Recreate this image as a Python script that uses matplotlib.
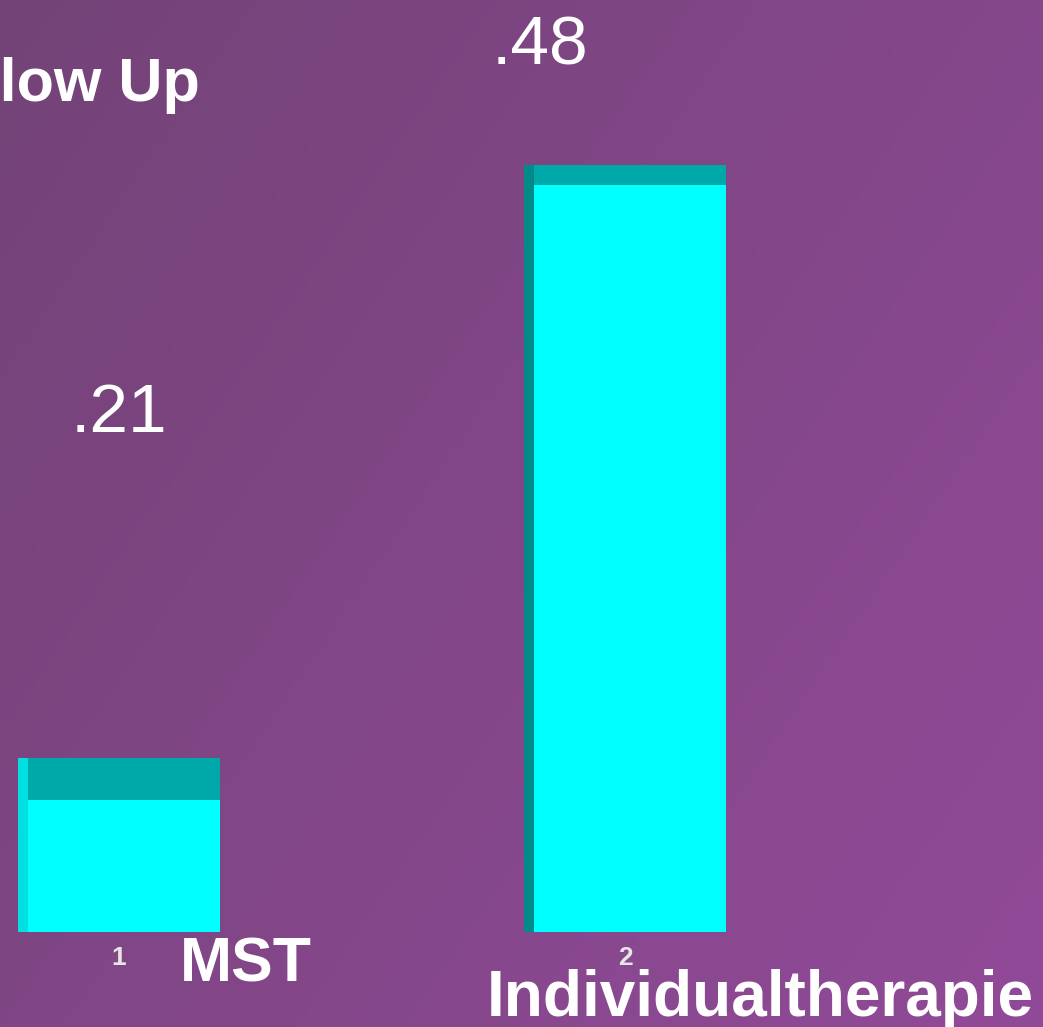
import numpy as np
import matplotlib
matplotlib.use("Agg")
import matplotlib.pyplot as plt

# ---- data ----
categories = ["MST", "Individualtherapie"]
tick_labels = ["1", "2"]
values = [0.21, 0.48]
value_labels = [".21", ".48"]
title_text = "Follow Up"

# ---- styling / layout ----
W, H, DPI = 1043, 1027, 100
base = 0.131
px_per_unit = 2198.0
cyan = "#00ffff"
cap_color = "#00a9a9"
cap_depth = [0.019, 0.009]
bar_width = 0.40

fig = plt.figure(figsize=(W / DPI, H / DPI), dpi=DPI)

# gradient background
bg = fig.add_axes([0, 0, 1, 1])
yy, xx = np.mgrid[0:1:200j, 0:1:200j]
t = (xx * 0.6 + yy * 0.4)
c0 = np.array([0x73, 0x43, 0x77]) / 255.0
c1 = np.array([0x91, 0x4a, 0x98]) / 255.0
img = c0[None, None, :] * (1 - t[..., None]) + c1[None, None, :] * t[..., None]
bg.imshow(img, aspect="auto", extent=[0, 1, 0, 1], origin="upper")
bg.axis("off")

# main axes: bottom at bar baseline (y=932 px)
bottom_frac = (H - 932) / H
ax = fig.add_axes([0, bottom_frac, 1, 1 - bottom_frac])
ax.patch.set_alpha(0)
x = np.arange(len(values))
ax.set_xlim(-119 / 506, (W - 119) / 506)
ax.set_ylim(base, base + 932 / px_per_unit)
for s in ax.spines.values():
    s.set_visible(False)
ax.set_yticks([])
ax.set_xticks(x, labels=tick_labels)
ax.tick_params(axis="x", length=0, pad=10, labelsize=19, labelcolor="#e6e6e6")
for lab in ax.get_xticklabels():
    lab.set_fontweight("bold")
    lab.set_family("Liberation Sans")

heights = [v - base for v in values]
ax.bar(x, heights, bottom=base, width=bar_width, color=cyan, zorder=2)
ax.bar(x, cap_depth, bottom=[v - d for v, d in zip(values, cap_depth)],
       width=bar_width, color=cap_color, zorder=3)
# left shaded edge (3D impression)
ax.bar(x - bar_width / 2 + 0.01, heights, bottom=base, width=0.02,
       color=["#00e0e0", "#008a8a"], zorder=3)

# value labels
val_offsets = [(0, 344), (-85, 118)]
for xi, v, lab, off in zip(x, values, value_labels, val_offsets):
    ax.annotate(lab, xy=(xi, v), xytext=(off[0] * 72 / DPI, off[1] * 72 / DPI),
                textcoords="offset points", ha="center", va="center",
                fontsize=50, color="white", family="Liberation Sans")

# category names
cat_offsets = [(127, -33), (135, -67)]
cat_sizes = [45, 46]
for xi, lab, off, fs in zip(x, categories, cat_offsets, cat_sizes):
    ax.annotate(lab, xy=(xi, base), xytext=(off[0] * 72 / DPI, off[1] * 72 / DPI),
                textcoords="offset points", ha="center", va="center",
                fontsize=fs, color="white", fontweight="bold",
                family="Liberation Sans", annotation_clip=False)

fig.text(200 / W, 1 - 85 / H, title_text, ha="right", va="center",
         fontsize=44, color="white", fontweight="bold", family="Liberation Sans")

fig.savefig("out.png", dpi=DPI)
